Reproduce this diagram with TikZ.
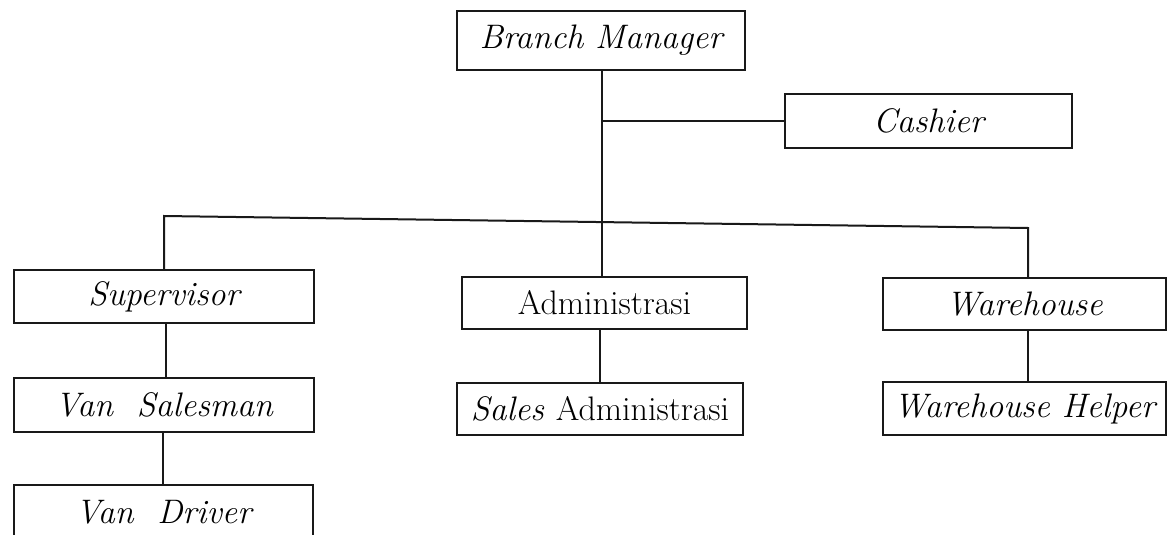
\documentclass[tikz,border=0pt]{standalone}
\usepackage{fontspec}
\begin{document}
\begin{tikzpicture}[x=1pt,y=-1pt,
  box/.style={draw=black!90,line width=2.2pt,inner sep=0pt,font=\fontsize{34}{40}\selectfont\itshape},
  conn/.style={draw=black!90,line width=2pt}]
\clip (0,0) rectangle (1167,535);
\fill[white] (0,0) rectangle (1167,535);
\node[box,minimum width=288pt,minimum height=59pt] (bm) at (601,40.5) {Branch Manager};
\node[box,minimum width=287pt,minimum height=54pt] (cash) at (928.5,121) {Cashier};
\node[box,minimum width=300pt,minimum height=53pt] (sup) at (164,296.5) {Supervisor};
\node[box,minimum width=300pt,minimum height=54pt] (vs) at (164,405) {Van\ \ Salesman};
\node[box,minimum width=299pt,minimum height=55pt] (vd) at (163.5,512.5) {Van\ \ Driver};
\node[box,minimum width=285pt,minimum height=52pt] (adm) at (604.5,303) {\upshape Administrasi};
\node[box,minimum width=286pt,minimum height=52pt] (sadm) at (600,409) {Sales \upshape Administrasi};
\node[box,minimum width=283pt,minimum height=52pt] (wh) at (1024.5,304) {Warehouse};
\node[box,minimum width=283pt,minimum height=53pt] (whh) at (1024.5,408.5) {Warehouse Helper};
\coordinate (top) at (602,70);
\coordinate (cj) at (602,121);
\coordinate (barL) at (164,216);
\coordinate (barR) at (1028,228);
\draw[conn] (top) -- (top |- adm.north);
\draw[conn] (cj) -- (cash.west);
\draw[conn] (sup.north -| barL) -- (barL) -- (barR) -- (barR |- wh.north);
\draw[conn] ([xshift=2pt]sup.south) -- ([xshift=2pt]sup.south |- vs.north);
\draw[conn] ([xshift=-1pt]vs.south) -- ([xshift=-1pt]vs.south |- vd.north);
\draw[conn] ([xshift=-5pt]adm.south) -- ([xshift=-5pt]adm.south |- sadm.north);
\draw[conn] ([xshift=3.5pt]wh.south) -- ([xshift=3.5pt]wh.south |- whh.north);
\end{tikzpicture}
\end{document}
